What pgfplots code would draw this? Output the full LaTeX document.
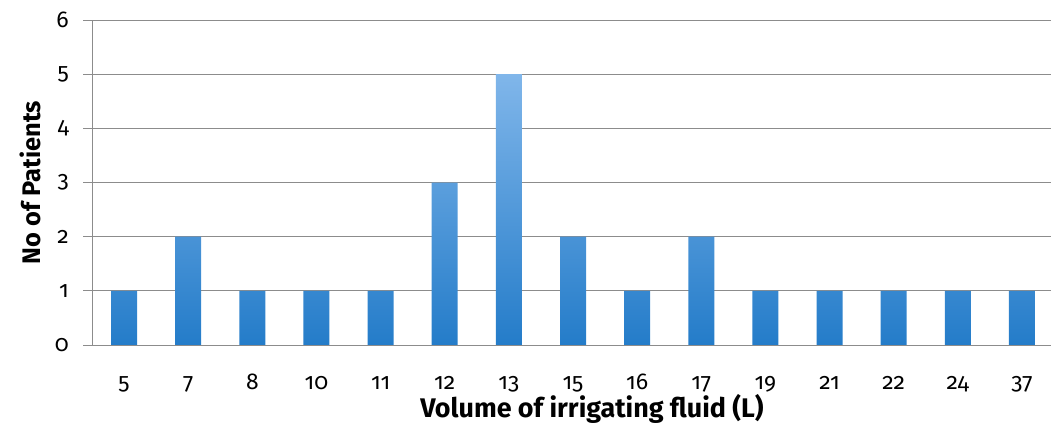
\documentclass[border=0pt]{standalone}
\usepackage{pgfplots}
\pgfplotsset{compat=1.18}
\usepackage{fontspec}
\setmainfont{Fira Sans}[Numbers=OldStyle]

\definecolor{barTop}{RGB}{128,182,234}
\definecolor{barBot}{RGB}{36,124,201}
\definecolor{gridgray}{RGB}{140,140,140}

\begin{document}
\begin{tikzpicture}
\begin{axis}[
  at={(92bp,89bp)}, anchor=south west,
  scale only axis, width=962bp, height=325bp,
  xmin=-0.5, xmax=14.5, ymin=0, ymax=6,
  ybar, bar width=26bp,
  xtick={0,...,14},
  xticklabels={5,7,8,10,11,12,13,15,16,17,19,21,22,24,37},
  ytick={0,...,6},
  /pgf/number format/assume math mode=true,
  axis x line*=bottom, axis y line*=left,
  axis line style={gridgray, line width=1bp},
  ymajorgrids, grid style={gridgray, line width=1bp},
  tick align=outside, major tick length=9bp,
  ytick style={gridgray, line width=1bp},
  xtick style={draw=none},
  tick label style={font=\fontsize{23}{23}\selectfont},
  xticklabel style={anchor=base, inner sep=0pt, yshift=-35bp},
  yticklabel style={anchor=east, inner sep=0pt, xshift=-14bp},
  every axis y label/.style={at={(axis description cs:0,0.5)},
    xshift=-62bp, rotate=90, anchor=center,
    font=\bfseries\fontsize{25.5}{25.5}\selectfont},
  every axis x label/.style={at={(axis description cs:0,0)}, anchor=base,
    xshift=500bp, yshift=-72bp, font=\bfseries\fontsize{27}{27}\selectfont},
  xlabel={Volume of irrigating fluid (L)},
  ylabel={No of Patients},
]
\addplot[draw=none, top color=barTop, bottom color=barBot] coordinates {
  (0,1) (1,2) (2,1) (3,1) (4,1) (5,3) (6,5) (7,2)
  (8,1) (9,2) (10,1) (11,1) (12,1) (13,1) (14,1)
};
\end{axis}
\pgfresetboundingbox
\path (0bp,0bp) rectangle (1051bp,434bp);
\end{tikzpicture}
\end{document}
